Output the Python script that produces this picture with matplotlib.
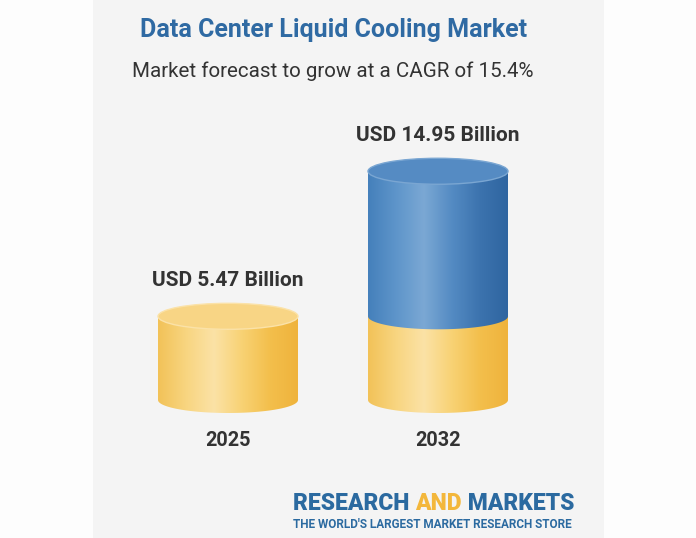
import numpy as np
import matplotlib.pyplot as plt
from matplotlib.patches import Ellipse, Rectangle, Polygon
from matplotlib.colors import LinearSegmentedColormap

plt.rcParams['font.family'] = ['Roboto', 'DejaVu Sans']

years = ["2025", "2032"]
values = [5.47, 14.95]
value_labels = ["USD 5.47 Billion", "USD 14.95 Billion"]
title = "Data Center Liquid Cooling Market"
subtitle = "Market forecast to grow at a CAGR of 15.4%"

yellow_cmap = LinearSegmentedColormap.from_list(
    "yel", ["#f2c258", "#f8d580", "#fbe2a6", "#f8d274", "#f3bf4c", "#efb33c"])
blue_cmap = LinearSegmentedColormap.from_list(
    "blu", ["#4580bb", "#5e95ca", "#7ba8d4", "#548bc3", "#3c73ae", "#2f65a0"])

fig = plt.figure(figsize=(6.96, 5.38), dpi=100)
fig.patch.set_facecolor("#fdfdfd")
fig.add_artist(Rectangle((93 / 696, 0), (604 - 93) / 696, 1, transform=fig.transFigure,
                         facecolor="#f4f4f4", edgecolor="none", zorder=0))

ax = fig.add_axes([0, 0, 1, 1])
ax.patch.set_alpha(0)
ax.axis("off")

px_x, px_y = 210, 15.3
xlim = (-228 / px_x, (696 - 228) / px_x)
ylim = (-138 / px_y, (538 - 138) / px_y)
width = 140 / px_x
ell_h = 26 / px_y


def body_path(xc, y0, y1):
    t = np.linspace(np.pi, 2 * np.pi, 60)
    arc = np.column_stack([xc + width / 2 * np.cos(t), y0 + ell_h / 2 * np.sin(t)])
    pts = [(xc - width / 2, y1)] + list(map(tuple, arc)) + [(xc + width / 2, y1)]
    return Polygon(pts, closed=True, facecolor="none", edgecolor="none", transform=ax.transData)


def segment(xc, y0, y1, cmap, top_color=None, rim=None):
    grad = np.linspace(0, 1, 256).reshape(1, -1)
    im = ax.imshow(grad, cmap=cmap, aspect="auto", interpolation="bicubic",
                   extent=[xc - width / 2, xc + width / 2, y0 - ell_h, y1], zorder=2)
    clip = body_path(xc, y0, y1)
    ax.add_patch(clip)
    im.set_clip_path(clip)
    if top_color is not None:
        ax.add_patch(Ellipse((xc, y1), width, ell_h, facecolor=top_color,
                             edgecolor=rim, linewidth=1.0, zorder=3))


# 2025 cylinder (all yellow)
segment(0, 0, values[0], yellow_cmap, "#f8d585", "#fbe2a8")
# 2032 cylinder: yellow base matching 2025, blue growth part on top
segment(1, 0, values[0], yellow_cmap)
segment(1, values[0], values[1], blue_cmap, "#558bc3", "#7aa6d2")

for i, (v, lab) in enumerate(zip(values, value_labels)):
    ax.annotate(lab, (i, v), xytext=(0, 26), textcoords="offset points",
                ha="center", va="center", fontsize=15, fontweight="bold", color="#333333")
    ax.annotate(years[i], (i, 0), xytext=(0, -29), textcoords="offset points",
                ha="center", va="center", fontsize=14.3, fontweight="bold", color="#333333")

ax.set_xlim(*xlim)
ax.set_ylim(*ylim)

fig.text(334 / 696, 1 - 30 / 538, title, ha="center", va="center",
         fontsize=18, fontweight="bold", color="#2f6aa3")
fig.text(333 / 696, 1 - 71 / 538, subtitle, ha="center", va="center",
         fontsize=14.8, color="#333333")

# logo
t1 = fig.text(293 / 696, 1 - 503 / 538, "RESEARCH ", ha="left", va="center",
              fontsize=16.5, fontweight="black", color="#2b6aa0")
t2 = ax.annotate("AND", xy=(1, 0), xycoords=t1, va="bottom", ha="left",
                 fontsize=16.5, fontweight="black", color="#f3b73b")
ax.annotate(" MARKETS", xy=(1, 0), xycoords=t2, va="bottom", ha="left",
            fontsize=16.5, fontweight="black", color="#2b6aa0")
fig.text(293 / 696, 1 - 524 / 538, "THE WORLD'S LARGEST MARKET RESEARCH STORE",
         ha="left", va="center", fontsize=8.45, fontweight="bold", color="#2b6aa0")

fig.savefig("out.png", dpi=100)
